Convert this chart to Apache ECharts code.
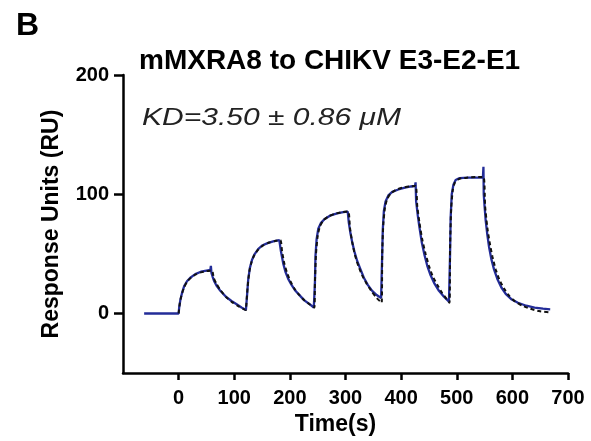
<!DOCTYPE html>
<html>
<head>
<meta charset="utf-8">
<script src="https://cdn.jsdelivr.net/npm/echarts@6/dist/echarts.min.js"></script>
<style>
  html, body { margin: 0; padding: 0; background: #fff; }
  #chart { width: 591px; height: 441px; }
</style>
</head>
<body>
<div id="chart"></div>
<script>
// tick labels
const xTicks = [0, 100, 200, 300, 400, 500, 600, 700]
const yTicks = [0, 100, 200]

const measured = [
  [-62, 0], [0, 0], [1, 5], [3, 11], [6, 17], [10, 23], [15, 27], [21, 30], [30, 33], [40, 35], [50, 36], [57, 36.5], [58, 40],
  [59, 34], [61, 31], [64, 27], [68, 23.5], [75, 19], [85, 14], [95, 10.5], [105, 7.5], [113, 5], [121, 3],
  [122, 3], [123, 15], [125, 28], [128, 38], [132, 45], [137, 50], [143, 54], [150, 57], [160, 59], [170, 60.5], [181, 61.5], [182, 63],
  [184, 52], [188, 42], [192, 35], [197, 29], [203, 24], [210, 19], [218, 15], [226, 11], [235, 8], [243, 5],
  [244, 5], [245, 25], [246, 48], [248, 62], [251, 71], [256, 76], [262, 79], [272, 82], [285, 84], [296, 85], [304, 85.5], [305, 87],
  [306, 76], [309, 67], [312, 60], [316, 52], [321, 44], [327, 37], [333, 30], [340, 24], [348, 19], [356, 15.5], [364, 13],
  [365, 13], [366, 50], [367, 70], [369, 86], [372, 94], [377, 99], [384, 102], [395, 104], [407, 105.5], [418, 106.5], [425, 107], [426, 110],
  [427, 94], [430, 82], [433, 72], [437, 60], [442, 49], [447, 40], [453, 32], [460, 25], [468, 19], [477, 14], [486, 10],
  [487, 10], [488, 50], [489, 80], [491, 100], [494, 108], [498, 112], [505, 113.5], [520, 114], [535, 114], [547, 114], [548, 123],
  [548.5, 100], [550, 90], [552, 78], [555, 66], [558, 56], [562, 46], [567, 37], [573, 29], [580, 22], [588, 16.5], [598, 12],
  [610, 9], [625, 6.5], [640, 5], [655, 4], [668, 3.5]
]

// fitted curve (black dashed)
const fitted = [
  [0, 0], [2, 8], [5, 15], [10, 22], [15, 26.5], [22, 30], [30, 32.5], [40, 34.5], [50, 35.5], [60, 36],
  [63, 30], [68, 25], [76, 19], [86, 13.5], [96, 9.5], [108, 6], [121, 3],
  [122, 3], [124, 22], [127, 35], [131, 43], [136, 49], [143, 53.5], [152, 57], [163, 59.5], [175, 61], [183, 61.5],
  [186, 52], [190, 42], [195, 34], [201, 27], [208, 21], [216, 16], [226, 11], [236, 7.5], [244, 5],
  [245, 25], [247, 50], [250, 65], [254, 73], [260, 78], [268, 81], [280, 83.5], [295, 85], [305, 85.5],
  [308, 72], [312, 60], [317, 49], [323, 40], [330, 32], [338, 25], [347, 18.5], [356, 13], [365, 9],
  [366, 50], [368, 75], [371, 89], [375, 96], [381, 100.5], [390, 103.5], [402, 105.5], [415, 106.5], [426, 107],
  [429, 90], [433, 76], [438, 62], [444, 50], [450, 40], [457, 31], [465, 24], [474, 17], [482, 12], [487, 9],
  [488, 55], [490, 88], [493, 104], [497, 110], [505, 113], [520, 114], [535, 114.5], [548, 114.5],
  [551, 90], [555, 72], [559, 60], [564, 48], [570, 37], [577, 28], [585, 21], [594, 15], [605, 10], [618, 6.5],
  [632, 4], [648, 2], [665, 1]
]

const chart = echarts.init(document.getElementById('chart'))

const axisText = { color: '#000', fontFamily: 'Liberation Sans', fontWeight: 'bold' }

chart.setOption({
  animation: false,
  title: {
    text: 'mMXRA8 to CHIKV E3-E2-E1',
    left: 134,
    top: 42,
    textStyle: { ...axisText, fontSize: 28 }
  },
  graphic: [
    {
      type: 'text', left: 16, top: 10,
      style: { text: 'B', fill: '#000', font: 'bold 32px "Liberation Sans"' }
    },
    {
      type: 'text', left: 142, top: 106, scaleX: 1.25,
      style: { text: 'KD=3.50 ± 0.86 μM', fill: '#222', font: 'italic 24px "Liberation Sans"' }
    }
  ],
  grid: { left: 123, right: 23, top: 75, bottom: 66 },
  xAxis: {
    type: 'value',
    min: -100,
    max: 700,
    interval: 100,
    name: 'Time(s)',
    nameLocation: 'middle',
    nameGap: 37,
    nameTextStyle: { ...axisText, fontSize: 23, padding: [0, 20, 0, 0] },
    axisLine: { onZero: false, lineStyle: { color: '#000', width: 2.5 } },
    axisTick: { customValues: xTicks, length: 7, lineStyle: { color: '#000', width: 2.5 } },
    axisLabel: { customValues: xTicks, ...axisText, fontSize: 20, margin: 15 },
    splitLine: { show: false }
  },
  yAxis: {
    type: 'value',
    min: -50,
    max: 200,
    name: 'Response Units (RU)',
    nameLocation: 'middle',
    nameGap: 60,
    nameTextStyle: { ...axisText, fontSize: 23 },
    axisLine: { show: true, onZero: false, lineStyle: { color: '#000', width: 2.5 } },
    axisTick: { show: true, customValues: yTicks, length: 9, lineStyle: { color: '#000', width: 2.5 } },
    axisLabel: { customValues: yTicks, ...axisText, fontSize: 20, margin: 14 },
    splitLine: { show: false }
  },
  series: [
    {
      name: 'measured',
      type: 'line',
      data: measured,
      showSymbol: false,
      lineStyle: { color: '#232c98', width: 2.3 }
    },
    {
      name: 'fit',
      type: 'line',
      data: fitted,
      showSymbol: false,
      smooth: 0.2,
      lineStyle: { color: '#111', width: 2, type: [4, 3] }
    }
  ]
})
</script>
</body>
</html>
